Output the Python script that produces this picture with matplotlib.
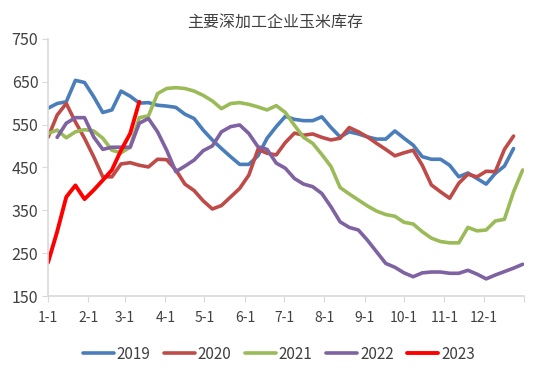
import matplotlib
matplotlib.use("Agg")
import matplotlib.pyplot as plt
import numpy as np

plt.rcParams['font.family'] = ['Noto Sans CJK SC', 'DejaVu Sans']

# 周度数据 (万吨)，x 为当年天数
inv_2019 = [588, 599, 603, 653, 648, 615, 578, 584, 628, 616, 600, 601, 595,
            593, 590, 574, 564, 537, 514, 494, 475, 457, 457, 477, 518, 545,
            569, 562, 559, 559, 568, 543, 521, 533, 528, 521, 516, 516, 535,
            518, 502, 475, 469, 469, 455, 428, 437, 424, 411, 436, 453, 494]
inv_2020 = [520, 572, 599, 556, 518, 475, 428, 428, 458, 461, 455, 451, 469,
            468, 444, 411, 396, 372, 353, 361, 381, 401, 432, 492, 483, 479,
            508, 530, 525, 528, 520, 514, 518, 543, 533, 521, 506, 492, 477,
            484, 490, 455, 409, 393, 378, 413, 434, 428, 441, 440, 492, 523]
inv_2021 = [529, 537, 519, 533, 538, 535, 518, 490, 484, 497, 566, 570, 622,
            634, 636, 634, 628, 618, 605, 587, 599, 601, 597, 591, 584, 594,
            578, 548, 520, 506, 480, 452, 403, 388, 374, 360, 348, 340, 336,
            322, 318, 300, 285, 277, 274, 274, 310, 302, 304, 325, 329, 393, 444]
inv_2022 = [520, 553, 566, 566, 521, 492, 497, 497, 497, 553, 564, 533, 490,
            440, 453, 467, 489, 500, 533, 545, 549, 529, 498, 492, 460, 448,
            424, 411, 405, 389, 358, 323, 310, 304, 280, 253, 226, 217, 204,
            195, 204, 206, 206, 203, 203, 210, 201, 190, 199, 207, 215, 224]
inv_2023 = [228, 300, 381, 408, 376, 397, 420, 444, 490, 529, 603]

month_days = [0, 31, 59, 90, 120, 151, 181, 212, 243, 273, 304, 334]
month_labels = ['1-1', '2-1', '3-1', '4-1', '5-1', '6-1',
                '7-1', '8-1', '9-1', '10-1', '11-1', '12-1']

series = [
    ('2019', inv_2019, 0, '#4A7EBB', 2.6),
    ('2020', inv_2020, 0, '#BE4B48', 2.6),
    ('2021', inv_2021, 0, '#9BBB59', 2.6),
    ('2022', inv_2022, 1, '#7F62A1', 2.6),
    ('2023', inv_2023, 0, '#FF0000', 2.8),
]

fig = plt.figure(figsize=(5.5, 3.8), dpi=100)
ax = fig.add_axes([0.0873, 0.221, 0.8654, 0.677])

for name, vals, start, color, lw in series:
    x = (np.arange(len(vals)) + start) * 7
    ax.plot(x, vals, color=color, linewidth=lw, label=name,
            solid_joinstyle='round', solid_capstyle='round')

ax.set_xlim(0, 365)
ax.set_ylim(150, 750)
ax.set_yticks(range(150, 751, 100))
ax.set_xticks(month_days + [365])
ax.set_xticklabels(month_labels + [''])

for s in ['top', 'right']:
    ax.spines[s].set_visible(False)
for s in ['left', 'bottom']:
    ax.spines[s].set_color('#D9D9D9')
    ax.spines[s].set_linewidth(1.2)

ax.tick_params(axis='y', length=4, color='#D9D9D9', labelsize=11.5,
               labelcolor='#404040', pad=3)
ax.tick_params(axis='x', length=4, color='#D9D9D9', labelsize=10,
               labelcolor='#404040', pad=7)

fig.suptitle('主要深加工企业玉米库存', x=0.5, y=0.965, fontsize=11.5,
             color='#404040')

fig.legend(loc='center', bbox_to_anchor=(0.507, 0.068), ncol=5, frameon=False,
           fontsize=11, handlelength=2.0, handletextpad=0.2,
           columnspacing=0.9, labelcolor='#404040')

fig.savefig('out.png', dpi=100)
